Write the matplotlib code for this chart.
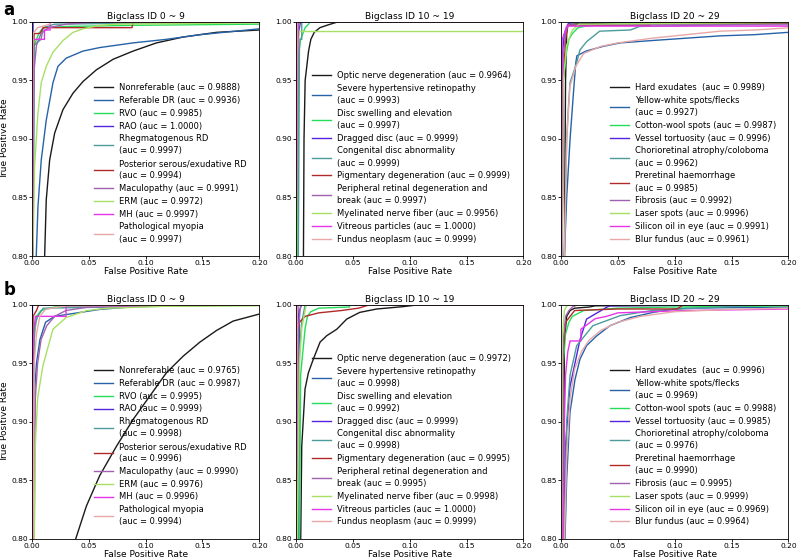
import matplotlib
matplotlib.use("Agg")
import matplotlib.pyplot as plt

# ----- Data -----

colors = ["#1a1a1a", "#2662a8", "#26dd5a", "#5224e0", "#4c9c9c",
          "#b02a2a", "#a062b0", "#a8e064", "#e834e8", "#e8a8a8"]

titles = ["Bigclass ID 0 ~ 9", "Bigclass ID 10 ~ 19", "Bigclass ID 20 ~ 29"]

# panel a, classes 0-9
labels_a0 = ["Nonreferable (auc = 0.9888)", "Referable DR (auc = 0.9936)",
             "RVO (auc = 0.9985)", "RAO (auc = 1.0000)",
             "Rhegmatogenous RD\n(auc = 0.9997)",
             "Posterior serous/exudative RD\n(auc = 0.9994)",
             "Maculopathy (auc = 0.9991)", "ERM (auc = 0.9972)",
             "MH (auc = 0.9997)", "Pathological myopia\n(auc = 0.9997)"]
fpr_a0 = [[0.0112, 0.0126, 0.0156, 0.020, 0.0273, 0.0361, 0.0449, 0.0567, 0.0714, 0.089, 0.1096, 0.133, 0.1624, 0.2],
          [0.0038, 0.0053, 0.0082, 0.0126, 0.0185, 0.0229, 0.0302, 0.0449, 0.0596, 0.089, 0.118, 0.148, 0.2],
          [0.001, 0.002, 0.006, 0.010, 0.030, 0.090, 0.2],
          [0.0, 0.001, 0.2],
          [0.001, 0.002, 0.008, 0.010, 0.020, 0.2],
          [0.0, 0.001, 0.002, 0.007, 0.010, 0.088, 0.089, 0.2],
          [0.0, 0.002, 0.004, 0.008, 0.015, 0.030, 0.060, 0.2],
          [0.0009, 0.0023, 0.0053, 0.0082, 0.0126, 0.0185, 0.0273, 0.0361, 0.0449, 0.0596, 0.0743, 0.2],
          [0.0005, 0.001, 0.011, 0.011, 0.016, 0.016, 0.2],
          [0.0, 0.001, 0.005, 0.016, 0.017, 0.2]]
tpr_a0 = [[0.800, 0.848, 0.882, 0.905, 0.925, 0.939, 0.949, 0.959, 0.968, 0.975, 0.982, 0.987, 0.991, 0.993],
          [0.800, 0.842, 0.882, 0.916, 0.948, 0.962, 0.969, 0.975, 0.978, 0.982, 0.985, 0.989, 0.994],
          [0.800, 0.980, 0.990, 0.995, 0.996, 0.997, 0.998],
          [0.800, 1.000, 1.000],
          [0.800, 0.980, 0.985, 0.995, 0.998, 1.000],
          [0.800, 0.970, 0.990, 0.990, 0.995, 0.995, 1.000, 1.000],
          [0.800, 0.960, 0.980, 0.990, 0.995, 0.998, 1.000, 1.000],
          [0.800, 0.876, 0.922, 0.948, 0.962, 0.974, 0.984, 0.991, 0.994, 0.997, 0.998, 0.999],
          [0.800, 0.985, 0.985, 0.993, 0.993, 1.000, 1.000],
          [0.800, 0.990, 0.995, 0.998, 1.000, 1.000]]

# panel a, classes 10-19
labels_a1 = ["Optic nerve degeneration (auc = 0.9964)",
             "Severe hypertensive retinopathy\n(auc = 0.9993)",
             "Disc swelling and elevation\n(auc = 0.9997)",
             "Dragged disc (auc = 0.9999)",
             "Congenital disc abnormality\n(auc = 0.9999)",
             "Pigmentary degeneration (auc = 0.9999)",
             "Peripheral retinal degeneration and\nbreak (auc = 0.9997)",
             "Myelinated nerve fiber (auc = 0.9956)",
             "Vitreous particles (auc = 1.0000)",
             "Fundus neoplasm (auc = 0.9999)"]
fpr_a1 = [[0.0065, 0.007, 0.008, 0.011, 0.013, 0.016, 0.021, 0.027, 0.037, 0.2],
          [0.001, 0.002, 0.004, 0.2],
          [0.001, 0.002, 0.004, 0.006, 0.008, 0.011, 0.012, 0.2],
          [0.0, 0.001, 0.2],
          [0.002, 0.003, 0.005, 0.005, 0.2],
          [0.0, 0.0005, 0.2],
          [0.0, 0.001, 0.003, 0.2],
          [0.0005, 0.001, 0.003, 0.2],
          [0.0, 0.0015, 0.002, 0.2],
          [0.0, 0.001, 0.2]]
tpr_a1 = [[0.800, 0.900, 0.950, 0.975, 0.985, 0.991, 0.995, 0.997, 1.000, 1.000],
          [0.800, 0.990, 1.000, 1.000],
          [0.800, 0.970, 0.985, 0.990, 0.995, 0.998, 1.000, 1.000],
          [0.800, 1.000, 1.000],
          [0.800, 0.985, 0.985, 1.000, 1.000],
          [0.800, 1.000, 1.000],
          [0.800, 0.990, 1.000, 1.000],
          [0.800, 0.970, 0.9917, 0.9917],
          [0.800, 0.970, 1.000, 1.000],
          [0.800, 1.000, 1.000]]

# panel a, classes 20-29
labels_a2 = ["Hard exudates  (auc = 0.9989)",
             "Yellow-white spots/flecks\n(auc = 0.9927)",
             "Cotton-wool spots (auc = 0.9987)",
             "Vessel tortuosity (auc = 0.9996)",
             "Chorioretinal atrophy/coloboma\n(auc = 0.9962)",
             "Preretinal haemorrhage\n(auc = 0.9985)",
             "Fibrosis (auc = 0.9992)", "Laser spots (auc = 0.9996)",
             "Silicon oil in eye (auc = 0.9991)",
             "Blur fundus (auc = 0.9961)"]
fpr_a2 = [[0.003, 0.004, 0.005, 0.006, 0.009, 0.05, 0.2],
          [0.003, 0.005, 0.008, 0.011, 0.013, 0.014, 0.022, 0.037, 0.052, 0.08, 0.11, 0.14, 0.17, 0.2],
          [0.001, 0.002, 0.005, 0.007, 0.010, 0.015, 0.025, 0.05, 0.2],
          [0.0005, 0.001, 0.003, 0.006, 0.010, 0.2],
          [0.003, 0.005, 0.0064, 0.0079, 0.0138, 0.0167, 0.0225, 0.034, 0.061, 0.069, 0.2],
          [0.001, 0.002, 0.004, 0.006, 0.078, 0.079, 0.2],
          [0.001, 0.002, 0.004, 0.006, 0.2],
          [0.001, 0.002, 0.005, 0.010, 0.016, 0.2],
          [0.0005, 0.001, 0.003, 0.005, 0.2],
          [0.003, 0.005, 0.0079, 0.010, 0.013, 0.020, 0.035, 0.05, 0.08, 0.11, 0.14, 0.17, 0.2]]
tpr_a2 = [[0.800, 0.950, 0.990, 0.997, 0.998, 0.999, 1.000],
          [0.800, 0.850, 0.900, 0.940, 0.965, 0.971, 0.975, 0.979, 0.982, 0.984, 0.986, 0.988, 0.989, 0.991],
          [0.800, 0.950, 0.975, 0.985, 0.990, 0.995, 0.997, 0.998, 0.999],
          [0.800, 0.970, 0.990, 0.998, 1.000, 1.000],
          [0.800, 0.900, 0.925, 0.948, 0.965, 0.976, 0.983, 0.992, 0.993, 0.996, 0.9986],
          [0.800, 0.950, 0.985, 0.997, 0.997, 0.999, 0.999],
          [0.800, 0.970, 0.990, 0.9974, 0.9974],
          [0.800, 0.950, 0.980, 0.993, 0.998, 0.9995],
          [0.800, 0.985, 0.990, 0.9963, 0.9963],
          [0.800, 0.900, 0.945, 0.952, 0.962, 0.973, 0.979, 0.982, 0.986, 0.989, 0.992, 0.993, 0.9949]]

# panel b, classes 0-9
labels_b0 = ["Nonreferable (auc = 0.9765)", "Referable DR (auc = 0.9987)",
             "RVO (auc = 0.9995)", "RAO (auc = 0.9999)",
             "Rhegmatogenous RD\n(auc = 0.9998)",
             "Posterior serous/exudative RD\n(auc = 0.9996)",
             "Maculopathy (auc = 0.9990)", "ERM (auc = 0.9976)",
             "MH (auc = 0.9996)", "Pathological myopia\n(auc = 0.9994)"]
fpr_b0 = [[0.0385, 0.0479, 0.0596, 0.0743, 0.089, 0.1037, 0.1184, 0.133, 0.1477, 0.1624, 0.177, 0.2],
          [0.001, 0.002, 0.004, 0.007, 0.012, 0.020, 0.040, 0.060, 0.100, 0.2],
          [0.001, 0.002, 0.004, 0.008, 0.020, 0.2],
          [0.0, 0.0005, 0.2],
          [0.001, 0.002, 0.005, 0.010, 0.2],
          [0.0, 0.001, 0.004, 0.006, 0.2],
          [0.002, 0.003, 0.005, 0.008, 0.013, 0.020, 0.030, 0.050, 0.2],
          [0.002, 0.003, 0.005, 0.0097, 0.0185, 0.030, 0.048, 0.0655, 0.118, 0.2],
          [0.0005, 0.001, 0.002, 0.003, 0.030, 0.030, 0.2],
          [0.001, 0.002, 0.004, 0.007, 0.012, 0.030, 0.2]]
tpr_b0 = [[0.800, 0.828, 0.854, 0.879, 0.902, 0.922, 0.942, 0.956, 0.968, 0.978, 0.986, 0.992],
          [0.800, 0.920, 0.950, 0.970, 0.985, 0.990, 0.993, 0.996, 0.999, 1.000],
          [0.800, 0.970, 0.990, 0.995, 0.998, 0.9995],
          [0.800, 1.000, 1.000],
          [0.800, 0.980, 0.990, 0.997, 1.000],
          [0.800, 0.990, 0.995, 1.000, 1.000],
          [0.800, 0.920, 0.950, 0.970, 0.982, 0.990, 0.995, 0.998, 1.000],
          [0.800, 0.880, 0.920, 0.948, 0.979, 0.989, 0.9949, 0.9969, 0.9986, 0.999],
          [0.800, 0.960, 0.980, 0.990, 0.990, 0.999, 1.000],
          [0.800, 0.950, 0.975, 0.990, 0.996, 0.999, 1.000]]

# panel b, classes 10-19
labels_b1 = ["Optic nerve degeneration (auc = 0.9972)",
             "Severe hypertensive retinopathy\n(auc = 0.9998)",
             "Disc swelling and elevation\n(auc = 0.9992)",
             "Dragged disc (auc = 0.9999)",
             "Congenital disc abnormality\n(auc = 0.9998)",
             "Pigmentary degeneration (auc = 0.9995)",
             "Peripheral retinal degeneration and\nbreak (auc = 0.9995)",
             "Myelinated nerve fiber (auc = 0.9998)",
             "Vitreous particles (auc = 1.0000)",
             "Fundus neoplasm (auc = 0.9999)"]
fpr_b1 = [[0.0041, 0.005, 0.0079, 0.0109, 0.0152, 0.0211, 0.027, 0.0358, 0.0446, 0.056, 0.071, 0.094, 0.106, 0.2],
          [0.002, 0.003, 0.005, 0.2],
          [0.003, 0.004, 0.006, 0.008, 0.010, 0.013, 0.020, 0.047, 0.047, 0.2],
          [0.001, 0.002, 0.2],
          [0.002, 0.003, 0.005, 0.008, 0.2],
          [0.0, 0.001, 0.003, 0.008, 0.020, 0.040, 0.055, 0.065, 0.2],
          [0.001, 0.002, 0.004, 0.2],
          [0.001, 0.003, 0.005, 0.008, 0.009, 0.2],
          [0.0, 0.001, 0.2],
          [0.0, 0.001, 0.002, 0.2]]
tpr_b1 = [[0.800, 0.879, 0.928, 0.942, 0.9535, 0.968, 0.9735, 0.979, 0.9877, 0.9934, 0.9963, 0.9983, 0.9997, 1.000],
          [0.800, 0.995, 1.000, 1.000],
          [0.800, 0.940, 0.960, 0.980, 0.990, 0.994, 0.997, 0.998, 1.000, 1.000],
          [0.800, 1.000, 1.000],
          [0.800, 0.960, 0.985, 1.000, 1.000],
          [0.800, 0.970, 0.985, 0.990, 0.993, 0.995, 0.997, 1.000, 1.000],
          [0.800, 0.980, 1.000, 1.000],
          [0.800, 0.950, 0.980, 0.995, 1.000, 1.000],
          [0.800, 1.000, 1.000],
          [0.800, 0.990, 1.000, 1.000]]

# panel b, classes 20-29
labels_b2 = ["Hard exudates  (auc = 0.9996)",
             "Yellow-white spots/flecks\n(auc = 0.9969)",
             "Cotton-wool spots (auc = 0.9988)",
             "Vessel tortuosity (auc = 0.9985)",
             "Chorioretinal atrophy/coloboma\n(auc = 0.9976)",
             "Preretinal haemorrhage\n(auc = 0.9990)",
             "Fibrosis (auc = 0.9995)", "Laser spots (auc = 0.9999)",
             "Silicon oil in eye (auc = 0.9969)",
             "Blur fundus (auc = 0.9964)"]
fpr_b2 = [[0.002, 0.003, 0.005, 0.008, 0.012, 0.025, 0.030, 0.2],
          [0.0035, 0.005, 0.0079, 0.0123, 0.0167, 0.0225, 0.031, 0.043, 0.061, 0.081, 0.099, 0.11, 0.2],
          [0.001, 0.002, 0.004, 0.007, 0.010, 0.020, 0.050, 0.100, 0.2],
          [0.002, 0.004, 0.0079, 0.0167, 0.0225, 0.040, 0.043, 0.2],
          [0.003, 0.005, 0.008, 0.0138, 0.028, 0.052, 0.080, 0.120, 0.160, 0.2],
          [0.001, 0.002, 0.004, 0.008, 0.012, 0.050, 0.102, 0.108, 0.2],
          [0.001, 0.002, 0.004, 0.007, 0.010, 0.015, 0.2],
          [0.0005, 0.001, 0.003, 0.005, 0.008, 0.2],
          [0.002, 0.003, 0.004, 0.006, 0.008, 0.0175, 0.0175, 0.030, 0.040, 0.050, 0.110, 0.2],
          [0.003, 0.005, 0.008, 0.012, 0.018, 0.025, 0.035, 0.050, 0.070, 0.100, 0.150, 0.2]]
tpr_b2 = [[0.800, 0.970, 0.990, 0.995, 0.997, 0.998, 0.999, 1.000],
          [0.800, 0.851, 0.908, 0.936, 0.9535, 0.965, 0.973, 0.982, 0.989, 0.9934, 0.9963, 0.997, 0.998],
          [0.800, 0.950, 0.975, 0.985, 0.990, 0.995, 0.997, 0.998, 0.999],
          [0.800, 0.880, 0.930, 0.970, 0.9877, 0.9977, 0.999, 1.000],
          [0.800, 0.900, 0.940, 0.965, 0.982, 0.9906, 0.995, 0.997, 0.999, 1.000],
          [0.800, 0.960, 0.985, 0.990, 0.995, 0.9963, 0.9963, 1.000, 1.000],
          [0.800, 0.970, 0.990, 0.995, 0.998, 1.000, 1.000],
          [0.800, 0.970, 0.995, 0.999, 1.000, 1.000],
          [0.800, 0.900, 0.940, 0.960, 0.969, 0.969, 0.979, 0.988, 0.990, 0.993, 0.995, 0.9963],
          [0.800, 0.870, 0.920, 0.945, 0.960, 0.970, 0.978, 0.985, 0.990, 0.994, 0.996, 0.997]]

# ----- Graf -----

fig = plt.figure(figsize=(7.98, 5.59), dpi=100)

lefts = [0.040, 0.371, 0.703]
bottoms = [0.542, 0.036]
width, height = 0.285, 0.419

panels = [[(labels_a0, fpr_a0, tpr_a0), (labels_a1, fpr_a1, tpr_a1),
           (labels_a2, fpr_a2, tpr_a2)],
          [(labels_b0, fpr_b0, tpr_b0), (labels_b1, fpr_b1, tpr_b1),
           (labels_b2, fpr_b2, tpr_b2)]]

for r, row in enumerate(panels):
    for c, (labels, fprs, tprs) in enumerate(row):
        ax = fig.add_axes([lefts[c], bottoms[r], width, height])
        for lab, xs, ys, col in zip(labels, fprs, tprs, colors):
            ax.plot(xs, ys, color=col, lw=1.0, label=lab)
        ax.set_xlim(0.0, 0.2)
        ax.set_ylim(0.8, 1.0)
        ax.set_xticks([0.0, 0.05, 0.10, 0.15, 0.20])
        ax.set_yticks([0.80, 0.85, 0.90, 0.95, 1.00])
        ax.set_xticklabels(["0.00", "0.05", "0.10", "0.15", "0.20"])
        ax.set_yticklabels(["0.80", "0.85", "0.90", "0.95", "1.00"])
        ax.tick_params(labelsize=5.4, length=2, width=0.6, pad=1)
        for sp in ax.spines.values():
            sp.set_linewidth(0.6)
        ax.set_title(titles[c], fontsize=6.6, pad=2)
        ax.set_xlabel("False Positive Rate", fontsize=6.5, labelpad=0.5)
        if c == 0:
            ax.set_ylabel("True Positive Rate", fontsize=6.5, labelpad=1.5)
        leg = ax.legend(loc="lower right", fontsize=6.0, frameon=False,
                        labelspacing=0.45, handlelength=2.3,
                        handletextpad=0.7, borderaxespad=1.1)
        for t in leg.get_texts():
            t.set_linespacing(1.45)

# oznaceni panelu
fig.text(0.004, 0.998, "a", fontsize=12, fontweight="bold", va="top")
fig.text(0.004, 0.498, "b", fontsize=12, fontweight="bold", va="top")

fig.savefig("out.png", dpi=100)
